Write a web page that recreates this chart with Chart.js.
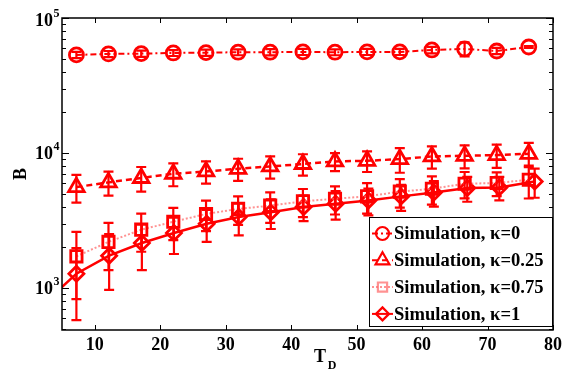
<!DOCTYPE html>
<html>
<head>
<meta charset="utf-8">
<script src="https://cdn.jsdelivr.net/npm/chart.js@4.4.1/dist/chart.umd.min.js"></script>
<style>
  body { margin: 0; background: #fff; }
  #wrap { width: 580px; height: 378px; position: relative; }
</style>
</head>
<body>
<div id="wrap"><canvas id="chart"></canvas></div>
<script>
// T_D positions of the simulation points
const TD = [7.2, 12.1, 17.1, 22.0, 27.0, 31.9, 36.8, 41.8, 46.7, 51.6, 56.6, 61.5, 66.5, 71.4, 76.3];
const TD_k1 = [2, 7.2, 12.2, 17.2, 22.1, 27.1, 32.0, 36.9, 41.9, 46.8, 51.8, 56.8, 61.8, 66.9, 71.8, 77.2];

const B_k0 = [53300, 54200, 54500, 55100, 55400, 55800, 55800, 56100, 55800, 56100, 56100, 58000, 59000, 57000, 61000];
const err_k0 = [2800, 2800, 2900, 2800, 3000, 2800, 3000, 2900, 2800, 2900, 2900, 3200, 7000, 3000, 900];

const B_k025 = [5600, 6070, 6540, 7030, 7310, 7650, 7960, 8300, 8670, 8770, 9020, 9440, 9550, 9660, 9880];
const err_k025 = [1300, 1230, 1350, 1350, 1360, 1430, 1480, 1500, 1330, 1530, 1870, 1760, 1850, 1900, 2000];

const B_k075 = [1720, 2200, 2710, 3100, 3540, 3860, 4080, 4390, 4590, 4780, 5180, 5440, 5930, 6000, 6350];
const err_k075 = [890, 840, 850, 830, 900, 920, 1040, 1030, 1080, 1220, 1240, 1280, 1310, 1200, 1740];

const B_k1 = [750, 1280, 1740, 2160, 2560, 3000, 3360, 3640, 3990, 4220, 4460, 4780, 5110, 5510, 5570, 6170];
const err_k1 = [0, 700, 770, 800, 770, 800, 900, 900, 850, 1000, 1000, 1050, 1100, 1150, 1100, 1500];

const seriesLabels = ['Simulation, \u03ba=0', 'Simulation, \u03ba=0.25', 'Simulation, \u03ba=0.75', 'Simulation, \u03ba=1'];
const xTicks = [10, 20, 30, 40, 50, 60, 70, 80];
const yDecades = [1e3, 1e4, 1e5];
const yExponents = ['3', '4', '5'];

const RED = '#ff0000';
const PINK = 'rgba(255,110,110,0.75)';
const FONT = 'bold 18px "Liberation Serif", "Times New Roman", serif';
const LEGFONT = 'bold 18.6px "Liberation Serif", "Times New Roman", serif';
const SMALL = 'bold 12px "Liberation Serif", "Times New Roman", serif';

function pts(xs, ys) {
  return xs.map((x, i) => ({x: x, y: ys[i]}));
}

const datasets = [
  {label: seriesLabels[0], data: pts(TD, B_k0), errors: err_k0, pointStyle: 'circle', pointRadius: 7,
   borderColor: RED, pointBorderColor: RED, borderDash: [6, 3, 2, 3], borderWidth: 2, markerColor: RED},
  {label: seriesLabels[1], data: pts(TD, B_k025), errors: err_k025, pointStyle: 'triangle', pointRadius: 9,
   borderColor: RED, pointBorderColor: RED, borderDash: [6, 4], borderWidth: 2.5, markerColor: RED},
  {label: seriesLabels[2], data: pts(TD, B_k075), errors: err_k075, pointStyle: 'rect', pointRadius: 8,
   borderColor: PINK, pointBorderColor: RED, borderDash: [2, 2], borderWidth: 2, markerColor: PINK},
  {label: seriesLabels[3], data: pts(TD_k1, B_k1), errors: err_k1, pointStyle: 'rectRot',
   pointRadius: c => c.dataIndex === 0 ? 0 : 7.5,
   borderColor: RED, pointBorderColor: RED, borderDash: [], borderWidth: 2.5, markerColor: RED, clip: 0}
];
datasets.forEach(d => {
  d.pointBackgroundColor = 'rgba(0,0,0,0)';
  d.pointBorderWidth = 2.8;
  d.fill = false;
  d.tension = 0;
});

function marker(ctx, style, x, y, r) {
  ctx.beginPath();
  if (style === 'circle') ctx.arc(x, y, r, 0, 2 * Math.PI);
  else if (style === 'triangle') {
    ctx.moveTo(x, y - r); ctx.lineTo(x + r * 0.866, y + r * 0.5); ctx.lineTo(x - r * 0.866, y + r * 0.5); ctx.closePath();
  } else if (style === 'rect') {
    const s = r * 0.7071; ctx.rect(x - s, y - s, 2 * s, 2 * s);
  } else {
    ctx.moveTo(x - r, y); ctx.lineTo(x, y - r); ctx.lineTo(x + r, y); ctx.lineTo(x, y + r); ctx.closePath();
  }
  ctx.stroke();
}

const decor = {
  id: 'decor',
  afterDatasetsDraw(chart) {
    const ctx = chart.ctx, a = chart.chartArea;
    const xs = chart.scales.x, ys = chart.scales.y;

    // error bars
    ctx.save();
    ctx.beginPath();
    ctx.rect(a.left, a.top, a.right - a.left, a.bottom - a.top);
    ctx.clip();
    ctx.setLineDash([]);
    ctx.lineWidth = 2.2;
    ctx.strokeStyle = RED;
    chart.data.datasets.forEach(ds => {
      ds.data.forEach((p, i) => {
        const e = ds.errors[i];
        if (!e) return;
        const px = xs.getPixelForValue(p.x);
        const y1 = ys.getPixelForValue(p.y + e);
        const y2 = ys.getPixelForValue(Math.max(p.y - e, 1));
        ctx.beginPath();
        ctx.moveTo(px, y1); ctx.lineTo(px, y2);
        ctx.moveTo(px - 5, y1); ctx.lineTo(px + 5, y1);
        ctx.moveTo(px - 5, y2); ctx.lineTo(px + 5, y2);
        ctx.stroke();
      });
    });
    ctx.restore();

    // frame and inward ticks
    ctx.save();
    ctx.strokeStyle = '#000';
    ctx.lineWidth = 1.5;
    ctx.strokeRect(a.left, a.top, a.right - a.left, a.bottom - a.top);
    ctx.lineWidth = 1;
    ctx.beginPath();
    xTicks.forEach(t => {
      const px = Math.round(xs.getPixelForValue(t)) + 0.5;
      ctx.moveTo(px, a.bottom); ctx.lineTo(px, a.bottom - 5);
      ctx.moveTo(px, a.top); ctx.lineTo(px, a.top + 5);
    });
    yDecades.forEach(d => {
      for (let m = 1; m <= 9; m++) {
        [d / 10, d].forEach(base => {
          const v = m * base;
          if (v < ys.min || v > ys.max) return;
          const py = Math.round(ys.getPixelForValue(v)) + 0.5;
          const len = m === 1 ? 7 : 4;
          ctx.moveTo(a.left, py); ctx.lineTo(a.left + len, py);
          ctx.moveTo(a.right, py); ctx.lineTo(a.right - len, py);
        });
      }
    });
    ctx.stroke();
    ctx.restore();

    // legend
    ctx.save();
    const lx = 369.5, ly = 217.5, lw = 183, lh = 109;
    ctx.fillStyle = '#fff';
    ctx.fillRect(lx, ly, lw, lh);
    ctx.strokeStyle = '#000';
    ctx.lineWidth = 1;
    ctx.strokeRect(lx, ly, lw, lh);
    chart.data.datasets.forEach((ds, i) => {
      const cy = 233.5 + i * 26.8;
      ctx.strokeStyle = ds.borderColor;
      ctx.lineWidth = 2;
      ctx.setLineDash(ds.borderDash);
      ctx.beginPath();
      ctx.moveTo(372, cy); ctx.lineTo(393, cy);
      ctx.stroke();
      ctx.setLineDash([]);
      ctx.strokeStyle = ds.markerColor;
      ctx.lineWidth = 2.2;
      marker(ctx, ds.pointStyle, 382.5, cy, ds.pointStyle === 'triangle' ? 8 : 6.5);
      ctx.fillStyle = '#000';
      ctx.font = LEGFONT;
      ctx.textAlign = 'left';
      ctx.textBaseline = 'middle';
      ctx.fillText(ds.label, 394, cy + 1);
    });
    ctx.restore();

    // tick labels and titles
    ctx.save();
    ctx.fillStyle = '#000';
    ctx.font = FONT;
    ctx.textBaseline = 'middle';
    ctx.textAlign = 'center';
    xTicks.forEach(t => ctx.fillText(String(t), xs.getPixelForValue(t), 345));
    yDecades.forEach((d, i) => {
      const py = ys.getPixelForValue(d);
      const cy = Math.max(py, a.top + 2) + 1;
      ctx.font = FONT;
      ctx.textAlign = 'right';
      ctx.fillText('10', 53, cy);
      ctx.font = SMALL;
      ctx.textAlign = 'left';
      ctx.fillText(yExponents[i], 53.5, cy - 7);
    });
    ctx.font = FONT;
    ctx.textAlign = 'center';
    ctx.fillText('T', 320, 357);
    ctx.font = SMALL;
    ctx.fillText('D', 332, 366);
    ctx.font = FONT;
    ctx.translate(21, 174);
    ctx.rotate(-Math.PI / 2);
    ctx.fillText('B', 0, 0);
    ctx.restore();
  }
};

new Chart(document.getElementById('chart').getContext('2d'), {
  type: 'line',
  data: {datasets: datasets},
  options: {
    responsive: true,
    maintainAspectRatio: false,
    animation: false,
    layout: {padding: {left: 62, right: 27, top: 18, bottom: 48}},
    scales: {
      x: {type: 'linear', min: 5, max: 80, display: false},
      y: {type: 'logarithmic', min: 490, max: 1e5, display: false}
    },
    plugins: {
      legend: {display: false},
      tooltip: {enabled: false}
    }
  },
  plugins: [decor]
});
</script>
</body>
</html>
